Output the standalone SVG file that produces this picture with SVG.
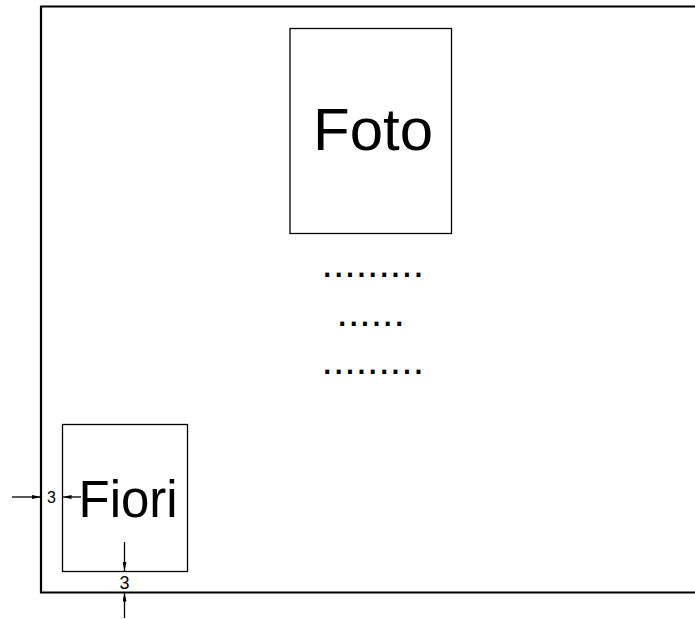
<svg xmlns="http://www.w3.org/2000/svg" width="695" height="619" viewBox="0 0 695 619">
<style>
.frame{fill:none;stroke:#000;stroke-width:2.2}
.box{fill:#fff;stroke:#000;stroke-width:1.3}
.dim{stroke:#000;stroke-width:1.3;fill:none}
.t{font-family:"Liberation Sans",Arial,sans-serif;fill:#000}
</style>
<defs>
<marker id="ah" markerWidth="9" markerHeight="4" refX="9" refY="2" orient="auto" markerUnits="userSpaceOnUse">
<path d="M0,0 L9,2 L0,4 Z" fill="#000"/>
</marker>
</defs>
<rect width="695" height="619" fill="#fff"/>
<g id="frame">
<path class="frame" d="M695,6.5 H41 V592.5 H695"/>
</g>
<g id="foto">
<rect class="box" x="290" y="28.5" width="161.5" height="205"/>
<text class="t" x="313" y="150" font-size="60">Foto</text>
</g>
<g id="dots">
<text class="t" x="321.5" y="276.5" font-size="41">.........</text>
<text class="t" x="336.5" y="325.5" font-size="41">......</text>
<text class="t" x="321.5" y="374" font-size="41">.........</text>
</g>
<g id="fiori">
<rect class="box" x="62.5" y="424.5" width="125" height="147"/>
<text class="t" x="78.5" y="516.5" font-size="51">Fiori</text>
</g>
<g id="connectors">
<line class="dim" x1="12" y1="497" x2="41" y2="497" marker-end="url(#ah)"/>
<line class="dim" x1="81" y1="497" x2="62.5" y2="497" marker-end="url(#ah)"/>
<line class="dim" x1="124.5" y1="542" x2="124.5" y2="571" marker-end="url(#ah)"/>
<line class="dim" x1="124.5" y1="618" x2="124.5" y2="592.5" marker-end="url(#ah)"/>
</g>
<g id="labels">
<text class="t" x="51.5" y="502.5" font-size="16" text-anchor="middle">3</text>
<text class="t" x="124.5" y="588.5" font-size="18" text-anchor="middle">3</text>
</g>
</svg>
